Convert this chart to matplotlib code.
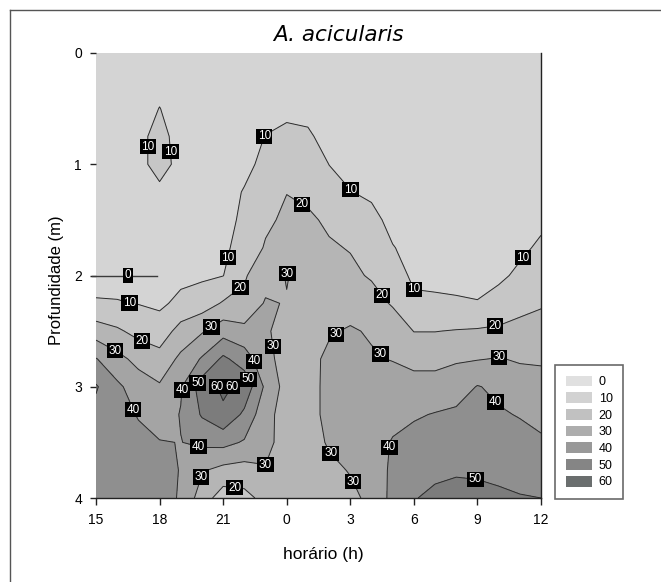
import matplotlib
matplotlib.use("Agg")
import matplotlib.pyplot as plt
from matplotlib.patches import Patch
from matplotlib.lines import Line2D
import numpy as np

plt.rcParams["font.family"] = ["Liberation Sans", "DejaVu Sans"]

# horas contadas a partir das 15 h (24 = meia-noite, 36 = meio-dia)
hours = [15, 16, 17, 18, 19, 20, 21, 22, 23, 24, 25, 26, 27, 28, 29, 30, 31, 32, 33, 34, 35, 36]
hour_ticks = [15, 18, 21, 24, 27, 30, 33, 36]
hour_tick_labels = ["15", "18", "21", "0", "3", "6", "9", "12"]
depths = [0.0, 0.25, 0.5, 0.75, 1.0, 1.25, 1.5, 1.75, 2.0, 2.25, 2.5, 2.75, 3.0, 3.25, 3.5, 3.75, 4.0]
depth_ticks = [0, 1, 2, 3, 4]
levels = [10, 20, 30, 40, 50, 60]
legend_levels = [0, 10, 20, 30, 40, 50, 60]

# valores: uma lista por horário, de 0 m a 4 m
by_hour = [
    [4, 4, 5, 5, 5, 5, 6, 6, 6, 11, 25, 40.5, 51, 47, 46, 45, 45],
    [4, 4, 5, 5, 5, 6, 6, 6, 7, 10.5, 21.5, 33, 42, 46, 46, 45, 45],
    [5, 5, 6, 8, 8, 7, 7, 7, 7, 9.7, 17, 27, 35, 39, 44, 45, 45],
    [6, 7, 10.2, 12.5, 12.5, 8.5, 7, 7, 7, 8.5, 14, 24, 31, 35, 40.5, 44, 44],
    [6, 6, 6, 7, 8, 7, 7, 7, 8, 12, 24, 32, 39, 40.5, 39.8, 39.5, 39],
    [6, 6, 6, 6, 7, 7, 7, 7, 8.5, 15, 29, 41, 55, 51, 42, 31, 25],
    [6, 6, 6, 6, 7, 7, 7.5, 8.5, 9.8, 21, 36, 52, 62, 58, 43, 27, 15],
    [6, 6, 6, 7, 8, 10.5, 11.5, 13, 19, 22, 33, 45, 57, 48, 39, 26, 17],
    [6, 6, 7, 10.2, 12, 15, 18, 21, 26, 31, 31, 33, 38, 33, 32, 29.5, 23],
    [6, 7, 8.5, 11.5, 16, 19.8, 22, 26, 30.5, 29.5, 27, 26, 26, 26, 27, 27, 26],
    [6, 7, 8, 11, 15, 18, 21.5, 23, 26, 29, 28, 27, 26, 26, 26, 27, 27],
    [5, 6, 7, 7.5, 9.9, 13, 18.5, 21, 24, 27, 29, 32, 33, 33, 31, 28, 26],
    [5, 6, 6, 7, 8, 10.2, 14, 19.5, 22, 26, 31, 34, 35, 35, 34, 30.5, 28],
    [5, 5, 6, 7, 8, 8.8, 12, 16, 19, 24, 29, 31, 35, 37, 37, 34, 32],
    [5, 5, 5, 6, 7, 8, 8, 10.3, 15, 19, 26, 29.5, 35, 38, 40.5, 42, 43],
    [4, 4, 5, 5, 6, 6, 7, 8, 8, 12, 19.8, 27, 34, 39, 43, 46, 49.5],
    [4, 4, 4, 5, 5, 6, 7, 8, 8.5, 11, 19.8, 27, 34, 40.5, 45, 48, 52],
    [4, 4, 4, 4, 5, 5, 6, 7, 8, 10.8, 20.5, 29, 35, 42, 46, 49, 53],
    [4, 4, 4, 4, 5, 5, 6, 7, 8, 10.3, 21, 29.5, 40.5, 44, 47, 48.5, 53],
    [4, 4, 4, 4, 5, 5, 6, 7, 9, 12, 22, 30.5, 38, 41, 45, 48, 51.5],
    [4, 4, 4, 5, 6, 7, 8, 9, 11, 17, 23, 29, 35, 39.5, 43, 47, 50.5],
    [4, 4, 5, 6, 7, 8, 9, 10.8, 13, 19, 24, 29, 33, 38, 41, 45, 50],
]

# linha "0" isolada que aparece no original
zero_line_hours = [14.8, 17.9]
zero_line_depth = 2.0

# onde ficam os rótulos das isolinhas (hora, profundidade)
label_spots = {
    10: [(17.45, 0.84), (18.6, 0.89), (23.0, 0.76), (27.1, 1.2), (16.6, 2.24),
         (21.2, 1.83), (29.95, 2.13), (35.05, 1.83)],
    20: [(24.6, 1.38), (21.9, 2.13), (17.3, 2.55), (28.4, 2.2), (33.8, 2.44), (21.6, 3.88)],
    30: [(20.3, 2.42), (16.04, 2.65), (24.25, 1.95), (23.0, 2.65), (26.2, 2.51),
         (28.45, 2.71), (34.05, 2.73), (26.4, 3.55), (27.55, 3.82), (19.9, 3.81),
         (23.55, 3.73)],
    40: [(16.84, 3.19), (18.63, 3.03), (22.5, 2.77), (19.9, 3.52), (29.1, 3.55), (33.9, 3.14)],
    50: [(19.67, 2.95), (22.1, 2.94), (32.9, 3.8)],
    60: [(20.3, 3.03), (21.45, 3.01)],
}

fill_colors = ["#d4d4d4", "#c6c6c6", "#b5b5b5", "#a4a4a4", "#8f8f8f", "#7c7c7c", "#6a6c6c"]
legend_colors = ["#e0e0e0", "#d2d2d2", "#c1c1c1", "#adadad", "#999999", "#858585", "#6a6e6e"]

values = np.array(by_hour).T

fig = plt.figure(figsize=(6.61, 5.82), dpi=100)
ax = fig.add_axes([96 / 661, 1 - 498 / 582, 445 / 661, 445 / 582])

ax.contourf(hours, depths, values, levels=[0] + levels + [100], colors=fill_colors)
cs = ax.contour(hours, depths, values, levels=levels, colors="#2b2b2b", linewidths=0.7)


def nearest_on_level(path, x, y):
    # ponto da isolinha mais próximo de (x, y), em escala de tela (21 h x 4 m no mesmo quadrado)
    best, best_d = (x, y), np.inf
    for poly in path.to_polygons(closed_only=False):
        for (x0, y0), (x1, y1) in zip(poly[:-1], poly[1:]):
            t = np.linspace(0, 1, 12)
            px, py = x0 + (x1 - x0) * t, y0 + (y1 - y0) * t
            d = ((px - x) / 21) ** 2 + ((py - y) / 4) ** 2
            i = np.argmin(d)
            if d[i] < best_d:
                best_d, best = d[i], (px[i], py[i])
    return best


label_box = dict(facecolor="black", edgecolor="none", pad=1.2)
paths = cs.get_paths()
for lvl, spots in label_spots.items():
    path = paths[levels.index(lvl)]
    for hx, dy in spots:
        lx, ly = nearest_on_level(path, hx, dy)
        ax.text(lx, ly, str(lvl), color="white", fontsize=8.5, ha="center", va="center",
                bbox=label_box)

ax.plot(zero_line_hours, [zero_line_depth] * 2, color="#3a3a3a", lw=1, clip_on=False)
ax.text(16.5, zero_line_depth, "0", color="white", fontsize=8.5, ha="center", va="center",
        bbox=label_box)

ax.set_xlim(15, 36)
ax.set_ylim(4, 0)
ax.set_xticks(hour_ticks, hour_tick_labels)
ax.set_yticks(depth_ticks)
for side in ["top", "left"]:
    ax.spines[side].set_visible(False)
for side in ["bottom", "right"]:
    ax.spines[side].set_color("#222222")
    ax.spines[side].set_linewidth(1)
ax.tick_params(axis="x", direction="out", length=5, width=1, color="#222222", labelsize=10, pad=6)
ax.tick_params(axis="y", direction="out", length=4, width=1, color="#222222", labelsize=10, pad=6)

ax.set_xlabel("horário (h)", fontsize=12.5)
ax.set_ylabel("Profundidade (m)", fontsize=12)
ax.xaxis.label.set_va("center")
ax.yaxis.label.set_va("center")
ax.xaxis.set_label_coords(0.51, -0.128)
ax.yaxis.set_label_coords(-0.088, 0.49)

fig.text(338 / 661, 1 - 35 / 582, "A. acicularis", fontsize=15.5, style="italic",
         family="DejaVu Sans", ha="center", va="center")

handles = [Patch(facecolor=c, edgecolor="none", label=str(l)) for c, l in zip(legend_colors, legend_levels)]
leg = fig.legend(handles=handles, loc="upper left", bbox_to_anchor=(555 / 661, 1 - 365 / 582),
                 frameon=True, fancybox=False, fontsize=9, handlelength=2.1, handleheight=0.95,
                 labelspacing=0.32, borderpad=0.85, handletextpad=0.55, borderaxespad=0)
leg.get_frame().set_edgecolor("#444444")
leg.get_frame().set_linewidth(1.2)

# moldura fina do quadro original (só esquerda e topo visíveis)
fig.add_artist(Line2D([10 / 661, 10 / 661], [0, 1 - 10 / 582], transform=fig.transFigure, color="#555555", lw=1))
fig.add_artist(Line2D([10 / 661, 1], [1 - 10 / 582, 1 - 10 / 582], transform=fig.transFigure, color="#555555", lw=1))

fig.savefig("out.png", dpi=100)
